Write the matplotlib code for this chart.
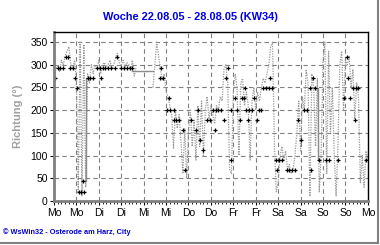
import numpy as np
import matplotlib
matplotlib.use("Agg")
import matplotlib.pyplot as plt
from matplotlib.lines import Line2D

plt.rcParams['font.family'] = ['Liberation Sans', 'DejaVu Sans']

# Wind direction, hourly samples (dotted line), NaN = missing
nan = np.nan
hours = list(range(169))
direction = [
    270, 290, 300, 285, 310, 300, 320, 330, 340, 300, 290, 310, 270, 20, 350, 10,
    345, 30, 280, 260, 300, 280, 300, 290, 310, 280, 300, 305, 295, 300, 310, 290,
    300, 315, 325, 305, 300, 310, 295, 305, 300, 290, 310, 275, 295, nan, nan, nan,
    nan, nan, nan, nan, nan, 250, 300, 350, 320, 290, 265, 280, 240, 230, 210, 190,
    115, 200, 160, 190, 130, 60, 160, 50, 150, 200, 120, 180, 90, 210, 120, 220,
    100, 200, 230, 180, 210, 190, 170, 210, 200, 230, 220, 290, 300, 260, 70, 60,
    240, 280, 250, 100, 260, 270, 210, 240, 210, 90, 220, 250, 200, 240, 220, 250,
    270, 260, 280, 300, 340, 350, 120, 20, 40, 100, 120, 90, 110, 70, 80, 60,
    70, 100, 150, 220, 110, 230, 200, 290, 260, 10, 280, 250, 120, 270, 20, 100,
    310, 350, 60, 330, 150, 250, 100, 10, 120, 300, 330, 200, 310, 300, 320, 250,
    290, 180, 260, 230, 40, 100, 30, 110, 90,
]

# Main direction markers (hour, degrees)
mark_hours = [
    0.5, 2, 3.5, 5, 6.5, 7.5, 8.5, 10, 11, 12.5, 13.5, 14.5, 16, 15.5,
    18, 19.5, 21, 23, 24.5, 26, 27.5, 29, 30.5, 25, 34, 32.5, 36, 37.5, 39, 40.5, 42,
    57.5, 56.5, 58.5, 61.5, 60.5, 62, 64, 64.5, 65.5, 67, 69, 70, 73.5, 76, 77, 78, 80,
    82, 83.5, 85, 86.5, 88, 89.5, 86, 91, 92, 93, 94.5, 95, 97, 98, 99.5, 100.5, 101.5,
    102, 103, 104.5, 106, 104, 107, 108.6, 109.5, 111, 112, 113.5, 115, 116.5, 115.5,
    119, 120.5, 122, 119.5, 124.5, 126, 127.5, 129, 130.5, 132, 134, 135.5, 137, 137.5,
    138.5, 139.5, 142, 145.5, 147, 152, 155, 157, 157.5, 158.5, 160, 161.5, 163, 161,
    167,
]
mark_dir = [
    270, 292, 292, 292, 318, 318, 292, 292, 270, 248, 20, 20, 20, 44,
    270, 270, 270, 292, 292, 292, 292, 292, 292, 270, 318, 292, 292, 292, 292, 292, 292,
    292, 270, 270, 226, 201, 201, 201, 179, 179, 179, 157, 68, 179, 157, 201, 135, 112,
    179, 179, 201, 201, 201, 201, 157, 179, 270, 292, 201, 90, 226, 201, 179, 226, 226,
    248, 201, 201, 201, 179, 226, 179, 201, 201, 248, 248, 248, 248, 270,
    90, 90, 90, 68, 68, 68, 68, 68, 179, 135, 201, 201, 248, 68,
    270, 248, 90, 90, 90, 90, 226, 318, 270, 226, 248, 248, 248, 179,
    90,
]

# Solid connecting steps where samples are missing
step_hours = [15.5, 17.3, 17.3, 18, nan, 42, 53, nan, 139.5, 141.5, 141.5, 142]
step_dir = [44, 44, 270, 270, nan, 286, 286, nan, 248, 248, 90, 90]

day_labels = ["Mo", "Mo", "Di", "Di", "Mi", "Mi", "Do", "Do",
              "Fr", "Fr", "Sa", "Sa", "So", "So", "Mo"]

fig = plt.figure(figsize=(3.8, 2.45), dpi=100)
ax = fig.add_axes([0.142, 0.180, 0.826, 0.689])

ax.plot(hours, direction, color="#9a9a9a", lw=0.9, linestyle=(0, (1, 1)))
ax.plot(step_hours, step_dir, color="#8c8c8c", lw=1.0)
ax.plot(mark_hours, mark_dir, linestyle="none", marker="+",
        ms=3.2, color="black", mew=0.9)

ax.set_xlim(0, 168)
ax.set_ylim(0, 372)
ax.set_xticks(range(0, 169, 12))
ax.set_xticklabels(day_labels)
ax.set_xticks(range(0, 169, 2), minor=True)
ax.set_yticks(range(0, 351, 50))
ax.grid(True, color="#808080", linestyle=(0, (4, 3)), lw=0.8)
ax.tick_params(axis="both", labelsize=7.5, colors="black", length=3, width=0.8)
ax.tick_params(axis="x", which="minor", length=2, width=0.6)
ax.tick_params(axis="x", pad=2)
ax.tick_params(axis="y", pad=1.5)

for side in ["left", "bottom"]:
    ax.spines[side].set_color("#808080")
    ax.spines[side].set_linewidth(2)
for side in ["top", "right"]:
    ax.spines[side].set_color("black")
    ax.spines[side].set_linewidth(1)

ax.set_ylabel("Richtung (°)", color="#a0a0a0", fontsize=8, fontweight="bold",
              labelpad=5)

fig.text(0.5, 0.93, "Woche 22.08.05 - 28.08.05 (KW34)", color="#0000ee",
         fontsize=7.9, fontweight="bold", ha="center", va="center")
fig.text(0.008, 0.053, "© WsWin32 - Osterode am Harz, City", color="#0000cc",
         fontsize=5.3, fontweight="bold", ha="left", va="center")

fig.add_artist(Line2D([0.994, 0.994], [0.008, 1.0], transform=fig.transFigure,
                      color="#808080", lw=1.5))
fig.add_artist(Line2D([0.0, 0.994], [0.008, 0.008], transform=fig.transFigure,
                      color="#808080", lw=1.5))

fig.savefig("out.png", dpi=100)
